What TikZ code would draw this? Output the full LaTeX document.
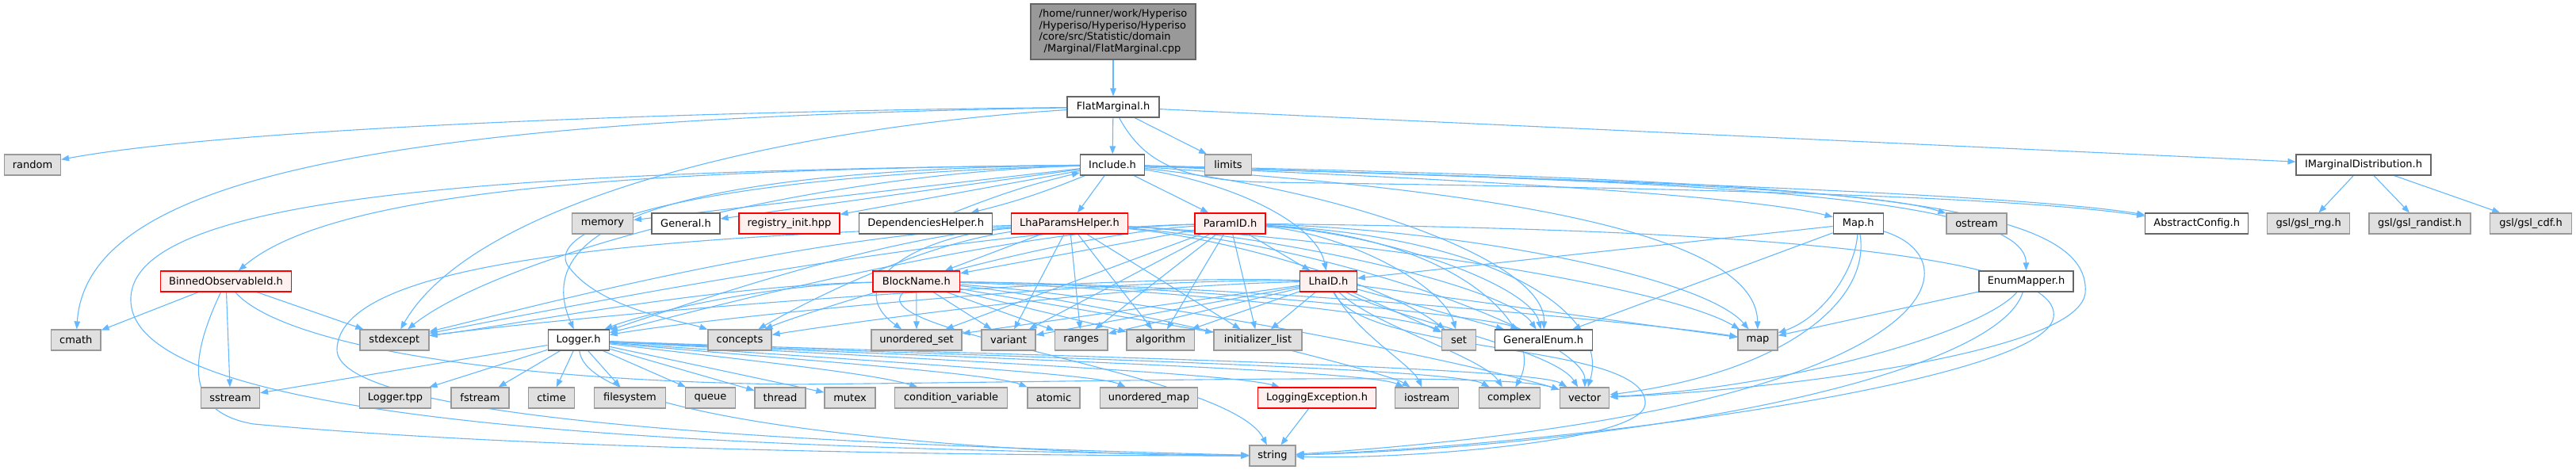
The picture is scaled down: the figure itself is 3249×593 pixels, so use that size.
\documentclass[tikz,border=0pt]{standalone}
\usepackage{fontspec}
\setmainfont{DejaVu Sans}
\usetikzlibrary{arrows.meta,backgrounds}
\definecolor{ecol}{HTML}{63B8FF}
\definecolor{gfill}{HTML}{E0E0E0}
\definecolor{gdraw}{HTML}{999999}
\definecolor{wdraw}{HTML}{666666}
\definecolor{rfill}{HTML}{FFF0F0}
\definecolor{tfill}{HTML}{999999}
\newcommand\fsz{\fontsize{13pt}{14.7pt}\selectfont}
\tikzset{
  base/.style={draw, minimum height=26pt, inner xsep=3pt, inner ysep=0pt, font=\fsz, line width=1.2pt},
  sysbox/.style={base, fill=gfill, draw=gdraw},
  locbox/.style={base, fill=white, draw=wdraw},
  redbox/.style={base, fill=rfill, draw=red},
  topbox/.style={base, fill=tfill, draw=wdraw, align=left},
  dep/.style={draw=ecol, line width=1.1pt, -{Triangle[length=10pt,width=7.5pt]}}
}
\begin{document}
\begin{tikzpicture}[x=1pt,y=-1pt]
\useasboundingbox (0,0) rectangle (3249,593);
% nodes
\node[topbox, minimum width=208pt, minimum height=70pt] (top) at (1404,40) {/home/runner/work/Hyperiso\\/Hyperiso/Hyperiso/Hyperiso\\/core/src/Statistic/domain\\\hspace*{6pt}/Marginal/FlatMarginal.cpp};
\node[locbox, minimum width=116pt] (FM) at (1404,135) {FlatMarginal.h};
\node[locbox, minimum width=81pt] (Inc) at (1403,208) {Include.h};
\node[sysbox, minimum width=59pt] (limits) at (1549,208) {limits};
\node[locbox, minimum width=170pt] (IMD) at (2981,208) {IMarginalDistribution.h};
\node[sysbox, minimum width=71pt] (random) at (41,208) {random};
% row 282
\node[sysbox, minimum width=77pt] (memory) at (760,282) {memory};
\node[locbox, minimum width=86pt] (General) at (865,282) {General.h};
\node[redbox, minimum width=127pt] (registry) at (995.5,282) {registry\_init.hpp};
\node[locbox, minimum width=168pt] (DepH) at (1167.7,282) {DependenciesHelper.h};
\node[redbox, minimum width=147pt] (LhaPH) at (1349,282) {LhaParamsHelper.h};
\node[redbox, minimum width=89pt] (ParamID) at (1551.5,282) {ParamID.h};
\node[locbox, minimum width=63pt] (Map) at (2343.7,282) {Map.h};
\node[sysbox, minimum width=76pt] (ostream) at (2493,282) {ostream};
\node[locbox, minimum width=130pt] (AbsC) at (2770.7,282) {AbstractConfig.h};
\node[sysbox, minimum width=104pt] (rng) at (2911.7,282) {gsl/gsl\_rng.h};
\node[sysbox, minimum width=128pt] (randist) at (3052,282) {gsl/gsl\_randist.h};
\node[sysbox, minimum width=103pt] (cdf) at (3192,282) {gsl/gsl\_cdf.h};
% row 355
\node[redbox, minimum width=165pt] (BinObs) at (285,355) {BinnedObservableId.h};
\node[redbox, minimum width=109.5pt] (BlockName) at (1155.8,355) {BlockName.h};
\node[redbox, minimum width=71.5pt] (LhaID) at (1675.5,355) {LhaID.h};
\node[locbox, minimum width=119pt] (EnumMapper) at (2555.5,355) {EnumMapper.h};
% row 429
\node[sysbox, minimum width=62.5pt] (cmath) at (95.8,429) {cmath};
\node[sysbox, minimum width=87pt] (stdexcept) at (497.4,429) {stdexcept};
\node[locbox, minimum width=77pt] (Logger) at (729.6,429) {Logger.h};
\node[sysbox, minimum width=80pt] (concepts) at (933,429) {concepts};
\node[sysbox, minimum width=114pt] (uset) at (1156,429) {unordered\_set};
\node[sysbox, minimum width=68pt] (variant) at (1272,429) {variant};
\node[sysbox, minimum width=66.6pt] (ranges) at (1363.7,429) {ranges};
\node[sysbox, minimum width=85.6pt] (algorithm) at (1463.8,429) {algorithm};
\node[sysbox, minimum width=111pt] (initlist) at (1586.5,429) {initializer\_list};
\node[sysbox, minimum width=43pt] (set) at (1840,429) {set};
\node[locbox, minimum width=123pt] (GeneralEnum) at (1946.7,429) {GeneralEnum.h};
\node[sysbox, minimum width=50pt] (map) at (2217,429) {map};
% row 502
\node[sysbox, minimum width=74pt] (sstream) at (290.5,502) {sstream};
\node[sysbox, minimum width=90.5pt] (Ltpp) at (498.5,502) {Logger.tpp};
\node[sysbox, minimum width=73pt] (fstream) at (605.5,502) {fstream};
\node[sysbox, minimum width=58pt] (ctime) at (695.5,502) {ctime};
\node[sysbox, minimum width=90.5pt] (filesystem) at (794.5,502) {filesystem};
\node[sysbox, minimum width=62.4pt] (queue) at (896,502) {queue};
\node[sysbox, minimum width=64pt] (thread) at (984,502) {thread};
\node[sysbox, minimum width=64pt] (mutex) at (1072,502) {mutex};
\node[sysbox, minimum width=142pt] (condvar) at (1199.6,502) {condition\_variable};
\node[sysbox, minimum width=66pt] (atomic) at (1329,502) {atomic};
\node[sysbox, minimum width=123.5pt] (umap) at (1449,502) {unordered\_map};
\node[redbox, minimum width=149.5pt] (LExc) at (1661,502) {LoggingException.h};
\node[sysbox, minimum width=80pt] (iostream) at (1799.7,502) {iostream};
\node[sysbox, minimum width=77pt] (complex) at (1903.6,502) {complex};
\node[sysbox, minimum width=62.4pt] (vector) at (1998.6,502) {vector};
\node[sysbox, minimum width=58pt] (string) at (1605,575) {string};
% ---- edges
\begin{scope}[on background layer]
\draw[dep] (top) -- (FM);
\draw[dep] (FM) .. controls (900,140) and (300,160) .. (random);
\draw[dep] (FM) .. controls (500,150) and (110,220) .. (cmath);
\draw[dep] (FM) .. controls (1000,160) and (600,250) .. (stdexcept);
\draw[dep] (FM) -- (Inc);
\draw[dep] (FM) -- (limits);
\draw[dep] (FM) .. controls (1440,200) and (1480,228) .. (1600,230) .. controls (2200,238) and (2550,250) .. (AbsC);
\draw[dep] (FM) -- (IMD);
\foreach \t in {rng,randist,cdf} \draw[dep] (IMD) -- (\t);
% Include
\draw[dep] (Inc) -- (memory);
\draw[dep] (Inc) -- (General);
\draw[dep] (Inc) -- (registry);
\draw[dep] (Inc) to[bend left=4] (DepH);
\draw[dep] (DepH) to[bend left=4] (Inc);
\draw[dep] (Inc) -- (LhaPH);
\draw[dep] (Inc) -- (ParamID);
\draw[dep] (Inc) .. controls (800,214) and (420,240) .. (BinObs);
\draw[dep] (Inc) .. controls (900,214) and (660,270) .. (Logger);
\draw[dep] (Inc) .. controls (800,225) and (680,300) .. (720,340) .. controls (760,390) and (860,405) .. (concepts);
\draw[dep] (Inc) .. controls (600,216) and (160,250) .. (165,380) .. controls (170,540) and (900,565) .. (string);
\draw[dep] (Inc) .. controls (1000,220) and (620,330) .. (stdexcept);
\draw[dep] (Inc) .. controls (1800,224) and (2200,245) .. (Map);
\draw[dep] (Inc) .. controls (1900,224) and (2350,235) .. (ostream);
\draw[dep] (Inc) .. controls (2000,226) and (2550,245) .. (AbsC);
\draw[dep] (Inc) .. controls (2000,228) and (2555,235) .. (EnumMapper);
\draw[dep] (Inc) .. controls (1800,235) and (2215,280) .. (map);
\draw[dep] (Inc) .. controls (2300,228) and (2640,250) .. (2630,370) .. controls (2620,450) and (2200,495) .. (vector);
\draw[dep] (Inc) .. controls (1550,230) and (1660,280) .. (LhaID);
\draw[dep] (Inc) .. controls (1700,240) and (1950,330) .. (GeneralEnum);
% LhaParamsHelper
\draw[dep] (LhaPH) -- (BlockName);
\foreach \t in {variant,ranges,algorithm,initlist} \draw[dep] (LhaPH) -- (\t);
\draw[dep] (LhaPH) .. controls (1150,298) and (1060,360) .. (uset);
\draw[dep] (LhaPH) .. controls (1000,300) and (700,380) .. (stdexcept);
\draw[dep] (LhaPH) .. controls (1100,300) and (850,390) .. (Logger);
\draw[dep] (LhaPH) .. controls (1150,310) and (1000,390) .. (concepts);
\draw[dep] (LhaPH) .. controls (1550,300) and (1750,360) .. (set);
\draw[dep] (LhaPH) .. controls (1600,295) and (1900,360) .. (GeneralEnum);
\draw[dep] (LhaPH) .. controls (1700,300) and (2100,360) .. (map);
\draw[dep] (LhaPH) .. controls (800,300) and (430,330) .. (425,440) .. controls (420,530) and (1000,560) .. (string);
\draw[dep] (LhaPH) .. controls (1700,310) and (2000,430) .. (vector);
% ParamID
\draw[dep] (ParamID) -- (BlockName);
\draw[dep] (ParamID) -- (LhaID);
\foreach \t in {uset,variant,ranges,algorithm,initlist} \draw[dep] (ParamID) -- (\t);
\draw[dep] (ParamID) .. controls (1200,290) and (700,390) .. (stdexcept);
\draw[dep] (ParamID) .. controls (1250,290) and (850,400) .. (Logger);
\draw[dep] (ParamID) .. controls (1300,300) and (1000,400) .. (concepts);
\draw[dep] (ParamID) .. controls (1700,295) and (1820,360) .. (set);
\draw[dep] (ParamID) .. controls (1750,295) and (1930,360) .. (GeneralEnum);
\draw[dep] (ParamID) .. controls (1850,290) and (2150,350) .. (map);
\draw[dep] (ParamID) .. controls (2300,290) and (2600,330) .. (2590,400) .. controls (2580,480) and (2000,560) .. (string);
\draw[dep] (ParamID) .. controls (1900,300) and (2030,400) .. (vector);
\draw[dep] (ParamID) .. controls (1850,300) and (1950,420) .. (complex);
% BlockName
\foreach \t in {uset,variant,ranges,algorithm,initlist} \draw[dep] (BlockName) -- (\t);
\draw[dep] (BlockName) .. controls (1500,365) and (1780,400) .. (set);
\draw[dep] (BlockName) .. controls (1500,360) and (1880,400) .. (GeneralEnum);
\draw[dep] (BlockName) .. controls (1600,360) and (2100,410) .. (map);
\draw[dep] (BlockName) .. controls (950,360) and (800,400) .. (Logger);
\draw[dep] (BlockName) .. controls (900,360) and (650,410) .. (stdexcept);
\draw[dep] (BlockName) .. controls (1080,420) and (1550,470) .. (string);
\draw[dep] (BlockName) .. controls (1500,380) and (1900,470) .. (vector);
\draw[dep] (BlockName) .. controls (1400,380) and (1750,470) .. (iostream);
% LhaID
\foreach \t in {uset,variant,ranges,algorithm,initlist,set,GeneralEnum,map} \draw[dep] (LhaID) -- (\t);
\draw[dep] (LhaID) .. controls (1400,345) and (800,390) .. (stdexcept);
\draw[dep] (LhaID) .. controls (1400,350) and (900,400) .. (Logger);
\draw[dep] (LhaID) .. controls (1400,360) and (1050,410) .. (concepts);
\draw[dep] (LhaID) .. controls (1710,420) and (1780,460) .. (iostream);
\draw[dep] (LhaID) .. controls (1730,410) and (1870,450) .. (complex);
\draw[dep] (LhaID) .. controls (1750,400) and (1960,440) .. (vector);
\draw[dep] (LhaID) .. controls (1720,450) and (2080,430) .. (2075,510) .. controls (2070,560) and (1750,580) .. (string);
% Map
\draw[dep] (Map) -- (LhaID);
\draw[dep] (Map) -- (GeneralEnum);
\draw[dep] (Map) .. controls (2340,340) and (2300,400) .. (map);
\draw[dep] (Map) .. controls (2360,380) and (2250,470) .. (vector);
\draw[dep] (Map) .. controls (2500,330) and (2450,520) .. (string);
% EnumMapper
\draw[dep] (EnumMapper) -- (map);
\draw[dep] (EnumMapper) .. controls (2500,420) and (2250,490) .. (vector);
\draw[dep] (EnumMapper) .. controls (2520,470) and (2100,560) .. (string);
% Logger
\foreach \t in {sstream,Ltpp,fstream,ctime,filesystem,queue,thread,mutex} \draw[dep] (Logger) -- (\t);
\draw[dep] (Logger) .. controls (900,450) and (1100,470) .. (condvar);
\draw[dep] (Logger) .. controls (950,450) and (1250,470) .. (atomic);
\draw[dep] (Logger) .. controls (1000,450) and (1380,470) .. (umap);
\draw[dep] (Logger) .. controls (1100,450) and (1550,470) .. (LExc);
\draw[dep] (Logger) .. controls (1100,448) and (1720,465) .. (iostream);
\draw[dep] (Logger) .. controls (1100,446) and (1830,462) .. (complex);
\draw[dep] (Logger) .. controls (1100,444) and (1930,460) .. (vector);
\draw[dep] (Logger) .. controls (740,540) and (1300,575) .. (string);
% BinnedObservableId
\draw[dep] (BinObs) -- (cmath);
\draw[dep] (BinObs) -- (stdexcept);
\draw[dep] (BinObs) -- (sstream);
\draw[dep] (BinObs) .. controls (240,450) and (230,520) .. (320,535) .. controls (700,570) and (1300,575) .. (string);
\draw[dep] (BinObs) .. controls (350,430) and (600,480) .. (1000,485) .. controls (1500,480) and (1900,470) .. (vector);
% LoggingException
\draw[dep] (LExc) -- (string);
\end{scope}
\end{tikzpicture}
\end{document}
